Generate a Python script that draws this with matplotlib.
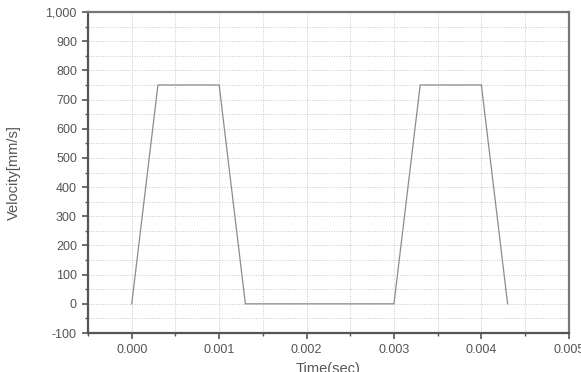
import matplotlib
matplotlib.use("Agg")
import matplotlib.pyplot as plt
from matplotlib.ticker import MultipleLocator, FuncFormatter

# velocity profile (trapezoid moves)
time_s = [0.0, 0.0003, 0.001, 0.0013, 0.003, 0.0033, 0.004, 0.0043]
velocity = [0, 750, 750, 0, 0, 750, 750, 0]

plt.rcParams['font.family'] = ['Liberation Sans', 'DejaVu Sans']

fig = plt.figure(figsize=(5.81, 3.72), dpi=100)
ax = fig.add_axes([0.1515, 0.1048, 0.8275, 0.8629])

ax.plot(time_s, velocity, color='#8c8c8c', linewidth=0.9)

ax.set_xlim(-0.0005, 0.005)
ax.set_ylim(-100, 1000)
ax.xaxis.set_major_locator(MultipleLocator(0.001))
ax.xaxis.set_minor_locator(MultipleLocator(0.0005))
ax.yaxis.set_major_locator(MultipleLocator(100))
ax.yaxis.set_minor_locator(MultipleLocator(50))
ax.xaxis.set_major_formatter(FuncFormatter(lambda v, p: f'{v:.3f}'))
ax.yaxis.set_major_formatter(FuncFormatter(lambda v, p: f'{v:,.0f}'))

ax.grid(True, which='both', linestyle=(0, (1, 1.5)), color='#c8c8c8', linewidth=0.7)
ax.set_axisbelow(True)

for side in ['left', 'bottom']:
    ax.spines[side].set_linewidth(1.6)
    ax.spines[side].set_color('#555555')
for side in ['top', 'right']:
    ax.spines[side].set_linewidth(1.6)
    ax.spines[side].set_color('#777777')

ax.tick_params(which='major', direction='out', length=4, width=1.2, color='#555555',
               labelsize=9, labelcolor='#555555', pad=4)
ax.tick_params(which='minor', direction='out', length=2.5, width=1.0, color='#555555')

ax.set_xlabel('Time(sec)', fontsize=10.5, color='#555555', labelpad=4)
ax.set_ylabel('Velocity[mm/s]', fontsize=10.5, color='#555555', labelpad=18)

fig.savefig('out.png', dpi=100)
